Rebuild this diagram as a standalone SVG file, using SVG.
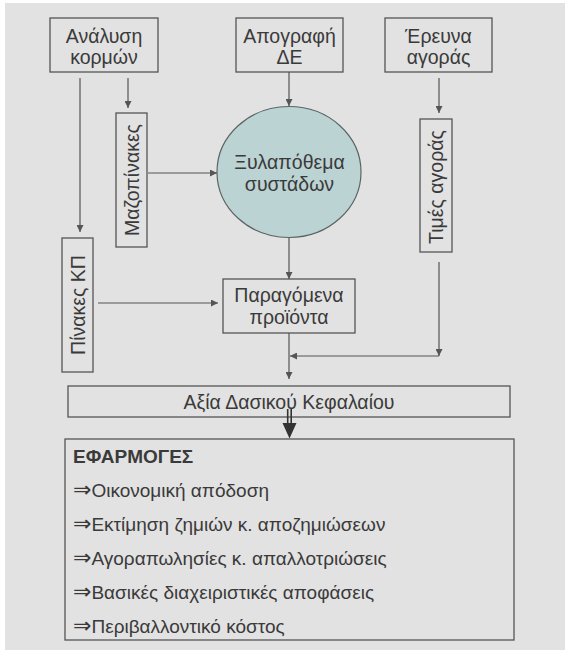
<svg xmlns="http://www.w3.org/2000/svg" width="565" height="655" viewBox="0 0 565 655">
<defs>
<style>
.box{fill:none;stroke:#555;stroke-width:1.3}
.t{font-family:"Liberation Sans",Arial,"DejaVu Sans",sans-serif;font-size:19.5px;fill:#3a3a3a;text-anchor:middle}
.l{font-family:"Liberation Sans",Arial,"DejaVu Sans",sans-serif;font-size:19px;fill:#3a3a3a}
.ar{font-family:"DejaVu Sans",sans-serif;font-size:22px}
.c{fill:none;stroke:#555;stroke-width:1.2}
</style>
<marker id="ah" viewBox="0 0 10 10" refX="10" refY="5" markerWidth="7" markerHeight="7" markerUnits="userSpaceOnUse" orient="auto">
<path d="M0,0 L10,5 L0,10 z" fill="#555"/>
</marker>
</defs>
<rect x="0" y="0" width="565" height="655" fill="#ffffff"/>
<rect x="5" y="3" width="560" height="647" fill="#e2e2e2"/>

<g id="analysi">
<rect class="box" x="50" y="18" width="108" height="54"/>
<text class="t" x="104" y="43">Ανάλυση</text>
<text class="t" x="104" y="64">κορμών</text>
</g>
<g id="apografi">
<rect class="box" x="236" y="18" width="107" height="54"/>
<text class="t" x="289.5" y="43">Απογραφή</text>
<text class="t" x="289.5" y="64">ΔΕ</text>
</g>
<g id="erevna">
<rect class="box" x="385" y="18" width="107" height="54"/>
<text class="t" x="438.5" y="43">Έρευνα</text>
<text class="t" x="438.5" y="64">αγοράς</text>
</g>
<g id="mazopinakes">
<rect class="box" x="116" y="113" width="31" height="134"/>
<text class="t" transform="translate(138.5,180) rotate(-90)" x="0" y="0">Μαζοπίνακες</text>
</g>
<g id="xylapothema">
<ellipse cx="289" cy="172" rx="72" ry="65.5" fill="#bcd3d3" stroke="#5a6464" stroke-width="1.2"/>
<text class="t" x="289.5" y="169">Ξυλαπόθεμα</text>
<text class="t" x="289.5" y="191">συστάδων</text>
</g>
<g id="times">
<rect class="box" x="420" y="119" width="32" height="133"/>
<text class="t" transform="translate(442.5,187) rotate(-90)" x="0" y="0">Τιμές αγοράς</text>
</g>
<g id="pinakes-kp">
<rect class="box" x="62" y="238" width="31" height="134"/>
<text class="t" transform="translate(84.5,305) rotate(-90)" x="0" y="0">Πίνακες ΚΠ</text>
</g>
<g id="paragomena">
<rect class="box" x="223" y="279" width="132" height="54"/>
<text class="t" x="289" y="302">Παραγόμενα</text>
<text class="t" x="289" y="324">προϊόντα</text>
</g>
<g id="axia">
<rect class="box" x="68" y="386" width="442" height="31"/>
<text class="t" x="289" y="408.5">Αξία Δασικού Κεφαλαίου</text>
</g>
<g id="efarmoges">
<rect class="box" x="65" y="439" width="449" height="201"/>
<text class="l" x="73" y="463" font-weight="bold">ΕΦΑΡΜΟΓΕΣ</text>
<text class="l" x="73" y="497"><tspan class="ar">⇒</tspan>Οικονομική απόδοση</text>
<text class="l" x="73" y="531"><tspan class="ar">⇒</tspan>Εκτίμηση ζημιών κ. αποζημιώσεων</text>
<text class="l" x="73" y="565"><tspan class="ar">⇒</tspan>Αγοραπωλησίες κ. απαλλοτριώσεις</text>
<text class="l" x="73" y="599"><tspan class="ar">⇒</tspan>Βασικές διαχειριστικές αποφάσεις</text>
<text class="l" x="73" y="633"><tspan class="ar">⇒</tspan>Περιβαλλοντικό κόστος</text>
</g>

<g id="connectors">
<line class="c" x1="80" y1="78" x2="80" y2="232" marker-end="url(#ah)"/>
<line class="c" x1="128" y1="78" x2="128" y2="108" marker-end="url(#ah)"/>
<line class="c" x1="289" y1="72" x2="289" y2="106" marker-end="url(#ah)"/>
<line class="c" x1="439" y1="78" x2="439" y2="113" marker-end="url(#ah)"/>
<line class="c" x1="148" y1="173" x2="217" y2="173" marker-end="url(#ah)"/>
<line class="c" x1="289" y1="238" x2="289" y2="279" marker-end="url(#ah)"/>
<line class="c" x1="98" y1="303" x2="218" y2="303" marker-end="url(#ah)"/>
<line class="c" x1="289" y1="333" x2="289" y2="379" marker-end="url(#ah)"/>
<line class="c" x1="439" y1="262" x2="439" y2="356" marker-end="url(#ah)"/>
<line class="c" x1="439" y1="356" x2="290" y2="356" marker-end="url(#ah)"/>
<line x1="287.7" y1="409" x2="287.7" y2="425" stroke="#333" stroke-width="1.6"/>
<line x1="291.2" y1="409" x2="291.2" y2="425" stroke="#333" stroke-width="1.6"/>
<path d="M282.5,423 L296.5,423 L289.5,438.5 z" fill="#333"/>
</g>
</svg>
